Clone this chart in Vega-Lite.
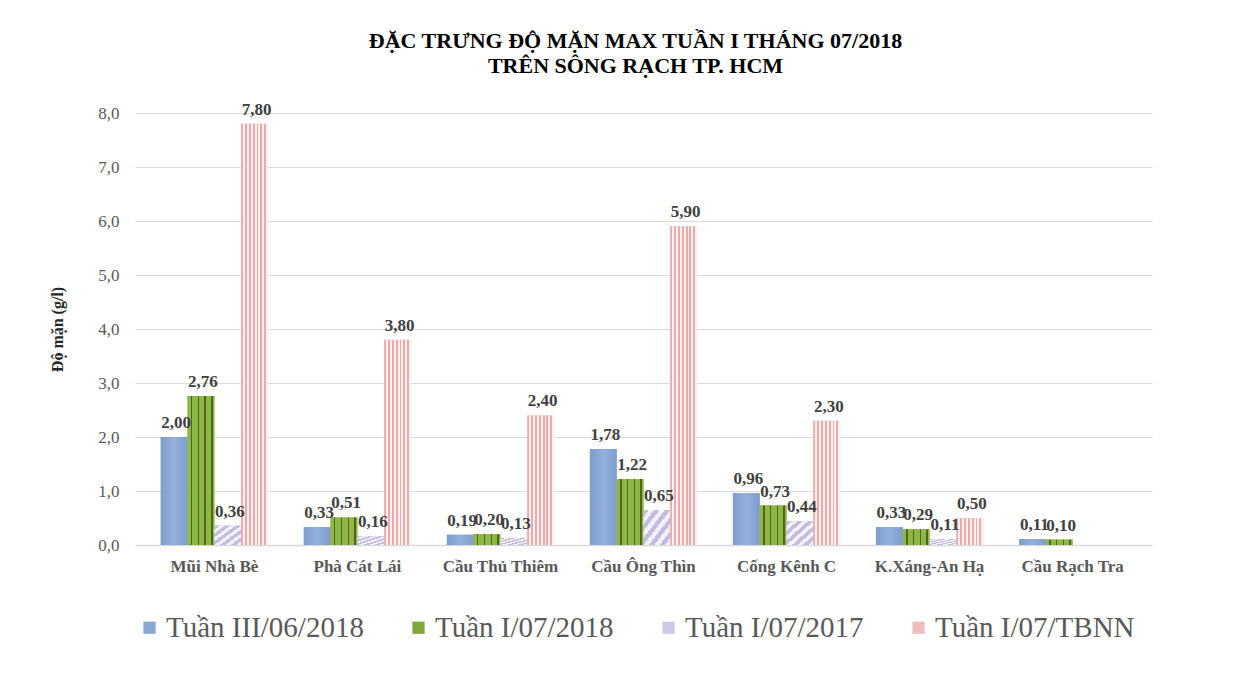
{
  "$schema": "https://vega.github.io/schema/vega-lite/v6.json",
  "autosize": {"type": "none"},
  "padding": {"left": 135, "top": 113, "right": 96, "bottom": 139},
  "width": 1017,
  "height": 432,
  "background": "white",
  "config": {
    "font": "Liberation Serif",
    "locale": {"number": {"decimal": ",", "thousands": ".", "grouping": [3], "currency": ["", ""]}},
    "view": {"stroke": null}
  },
  "title": {
    "text": ["ĐẶC TRƯNG ĐỘ MẶN MAX TUẦN I THÁNG 07/2018", "TRÊN SÔNG RẠCH TP. HCM"],
    "font": "Liberation Serif",
    "fontSize": 22,
    "fontWeight": "bold",
    "color": "#000000",
    "anchor": "middle",
    "dx": -8,
    "lineHeight": 25,
    "offset": 23
  },
  "data": {
    "values": [
      {"site": "Mũi Nhà Bè", "series": "Tuần III/06/2018", "v": 2.00},
      {"site": "Mũi Nhà Bè", "series": "Tuần I/07/2018", "v": 2.76},
      {"site": "Mũi Nhà Bè", "series": "Tuần I/07/2017", "v": 0.36},
      {"site": "Mũi Nhà Bè", "series": "Tuần I/07/TBNN", "v": 7.80},
      {"site": "Phà Cát Lái", "series": "Tuần III/06/2018", "v": 0.33},
      {"site": "Phà Cát Lái", "series": "Tuần I/07/2018", "v": 0.51},
      {"site": "Phà Cát Lái", "series": "Tuần I/07/2017", "v": 0.16},
      {"site": "Phà Cát Lái", "series": "Tuần I/07/TBNN", "v": 3.80},
      {"site": "Cầu Thủ Thiêm", "series": "Tuần III/06/2018", "v": 0.19},
      {"site": "Cầu Thủ Thiêm", "series": "Tuần I/07/2018", "v": 0.20},
      {"site": "Cầu Thủ Thiêm", "series": "Tuần I/07/2017", "v": 0.13},
      {"site": "Cầu Thủ Thiêm", "series": "Tuần I/07/TBNN", "v": 2.40},
      {"site": "Cầu Ông Thìn", "series": "Tuần III/06/2018", "v": 1.78},
      {"site": "Cầu Ông Thìn", "series": "Tuần I/07/2018", "v": 1.22},
      {"site": "Cầu Ông Thìn", "series": "Tuần I/07/2017", "v": 0.65},
      {"site": "Cầu Ông Thìn", "series": "Tuần I/07/TBNN", "v": 5.90},
      {"site": "Cống Kênh C", "series": "Tuần III/06/2018", "v": 0.96},
      {"site": "Cống Kênh C", "series": "Tuần I/07/2018", "v": 0.73},
      {"site": "Cống Kênh C", "series": "Tuần I/07/2017", "v": 0.44},
      {"site": "Cống Kênh C", "series": "Tuần I/07/TBNN", "v": 2.30},
      {"site": "K.Xáng-An Hạ", "series": "Tuần III/06/2018", "v": 0.33},
      {"site": "K.Xáng-An Hạ", "series": "Tuần I/07/2018", "v": 0.29},
      {"site": "K.Xáng-An Hạ", "series": "Tuần I/07/2017", "v": 0.11},
      {"site": "K.Xáng-An Hạ", "series": "Tuần I/07/TBNN", "v": 0.50},
      {"site": "Cầu Rạch Tra", "series": "Tuần III/06/2018", "v": 0.11},
      {"site": "Cầu Rạch Tra", "series": "Tuần I/07/2018", "v": 0.10}
    ]
  },
  "encoding": {
    "x": {
      "field": "site",
      "type": "nominal",
      "sort": null,
      "scale": {"paddingInner": 0.25, "paddingOuter": 0.18},
      "axis": {
        "title": null,
        "labelAngle": 0,
        "labelFont": "Liberation Serif",
        "labelFontSize": 17,
        "labelFontWeight": "bold",
        "labelColor": "#595959",
        "labelPadding": 13,
        "labelDx": -9,
        "ticks": false,
        "domainColor": "#D9D9D9",
        "domainWidth": 1.5,
        "grid": false
      }
    },
    "xOffset": {
      "field": "series",
      "type": "nominal",
      "sort": null,
      "scale": {"domain": ["Tuần III/06/2018", "Tuần I/07/2018", "Tuần I/07/2017", "Tuần I/07/TBNN"], "paddingInner": 0, "paddingOuter": 0}
    },
    "y": {
      "field": "v",
      "type": "quantitative",
      "scale": {"domain": [0, 8], "nice": false},
      "axis": {
        "title": "Độ mặn (g/l)",
        "titleFont": "Liberation Serif",
        "titleFontSize": 16,
        "titleFontWeight": "bold",
        "titleColor": "#262626",
        "titlePadding": 32,
        "values": [0, 1, 2, 3, 4, 5, 6, 7, 8],
        "format": ".1f",
        "labelFont": "Liberation Serif",
        "labelFontSize": 17,
        "labelColor": "#595959",
        "labelPadding": 16,
        "ticks": false,
        "domain": false,
        "gridColor": "#D9D9D9",
        "gridWidth": 1
      }
    }
  },
  "layer": [
    {
      "mark": {"type": "bar"},
      "encoding": {
        "color": {
          "field": "series",
          "type": "nominal",
          "sort": null,
          "scale": {
            "domain": ["Tuần III/06/2018", "Tuần I/07/2018", "Tuần I/07/2017", "Tuần I/07/TBNN"],
            "range": ["#8AA8D6", "#7FA83A", "#CFC8E6", "#F0BDBD"]
          },
          "legend": {
            "title": null,
            "orient": "bottom",
            "direction": "horizontal",
            "labelFont": "Liberation Serif",
            "labelFontSize": 29,
            "labelColor": "#595959",
            "labelLimit": 0,
            "symbolType": "square",
            "symbolSize": 150,
            "symbolStrokeWidth": 0,
            "labelOffset": 2,
            "columnPadding": 40,
            "padding": 0,
            "offset": 39
          }
        }
      }
    },
    {
      "transform": [{"filter": "datum.series == 'Tuần III/06/2018'"}],
      "mark": {
        "type": "bar",
        "fill": {"gradient": "linear", "x1": 0, "y1": 0, "x2": 1, "y2": 0,
          "stops": [{"offset": 0, "color": "#7E9DCC"}, {"offset": 0.5, "color": "#94B0DB"}, {"offset": 1, "color": "#7E9DCC"}]}
      }
    },
    {
      "transform": [{"filter": "datum.series == 'Tuần I/07/2018'"}],
      "mark": {
        "type": "bar",
        "fill": {"gradient": "linear", "x1": 0, "y1": 0, "x2": 1, "y2": 0,
          "stops": [
            {"offset": 0, "color": "#8DB843"}, {"offset": 0.13, "color": "#8DB843"}, {"offset": 0.13, "color": "#4E6621"}, {"offset": 0.18, "color": "#4E6621"}, {"offset": 0.18, "color": "#8DB843"},
            {"offset": 0.38, "color": "#8DB843"}, {"offset": 0.38, "color": "#4E6621"}, {"offset": 0.43, "color": "#4E6621"}, {"offset": 0.43, "color": "#8DB843"},
            {"offset": 0.63, "color": "#8DB843"}, {"offset": 0.63, "color": "#4E6621"}, {"offset": 0.68, "color": "#4E6621"}, {"offset": 0.68, "color": "#8DB843"},
            {"offset": 0.88, "color": "#8DB843"}, {"offset": 0.88, "color": "#4E6621"}, {"offset": 0.93, "color": "#4E6621"}, {"offset": 0.93, "color": "#8DB843"}, {"offset": 1, "color": "#8DB843"}
          ]}
      }
    },
    {
      "transform": [{"filter": "datum.series == 'Tuần I/07/2017'"}],
      "mark": {
        "type": "bar",
        "fill": {"gradient": "linear", "x1": 0, "y1": 0, "x2": 1, "y2": 1,
          "stops": [
            {"offset": 0, "color": "#C4BCDF"}, {"offset": 0.1, "color": "#C4BCDF"}, {"offset": 0.1, "color": "#F2F0F8"}, {"offset": 0.2, "color": "#F2F0F8"},
            {"offset": 0.2, "color": "#C4BCDF"}, {"offset": 0.3, "color": "#C4BCDF"}, {"offset": 0.3, "color": "#F2F0F8"}, {"offset": 0.4, "color": "#F2F0F8"},
            {"offset": 0.4, "color": "#C4BCDF"}, {"offset": 0.5, "color": "#C4BCDF"}, {"offset": 0.5, "color": "#F2F0F8"}, {"offset": 0.6, "color": "#F2F0F8"},
            {"offset": 0.6, "color": "#C4BCDF"}, {"offset": 0.7, "color": "#C4BCDF"}, {"offset": 0.7, "color": "#F2F0F8"}, {"offset": 0.8, "color": "#F2F0F8"},
            {"offset": 0.8, "color": "#C4BCDF"}, {"offset": 0.9, "color": "#C4BCDF"}, {"offset": 0.9, "color": "#F2F0F8"}, {"offset": 1, "color": "#F2F0F8"}
          ]}
      }
    },
    {
      "transform": [{"filter": "datum.series == 'Tuần I/07/TBNN'"}],
      "mark": {
        "type": "bar",
        "fill": {"gradient": "linear", "x1": 0, "y1": 0, "x2": 1, "y2": 0,
          "stops": [
            {"offset": 0, "color": "#EDAAAA"}, {"offset": 0.071, "color": "#EDAAAA"}, {"offset": 0.071, "color": "#FDF0F0"}, {"offset": 0.143, "color": "#FDF0F0"},
            {"offset": 0.143, "color": "#EDAAAA"}, {"offset": 0.214, "color": "#EDAAAA"}, {"offset": 0.214, "color": "#FDF0F0"}, {"offset": 0.286, "color": "#FDF0F0"},
            {"offset": 0.286, "color": "#EDAAAA"}, {"offset": 0.357, "color": "#EDAAAA"}, {"offset": 0.357, "color": "#FDF0F0"}, {"offset": 0.429, "color": "#FDF0F0"},
            {"offset": 0.429, "color": "#EDAAAA"}, {"offset": 0.5, "color": "#EDAAAA"}, {"offset": 0.5, "color": "#FDF0F0"}, {"offset": 0.571, "color": "#FDF0F0"},
            {"offset": 0.571, "color": "#EDAAAA"}, {"offset": 0.643, "color": "#EDAAAA"}, {"offset": 0.643, "color": "#FDF0F0"}, {"offset": 0.714, "color": "#FDF0F0"},
            {"offset": 0.714, "color": "#EDAAAA"}, {"offset": 0.786, "color": "#EDAAAA"}, {"offset": 0.786, "color": "#FDF0F0"}, {"offset": 0.857, "color": "#FDF0F0"},
            {"offset": 0.857, "color": "#EDAAAA"}, {"offset": 0.929, "color": "#EDAAAA"}, {"offset": 0.929, "color": "#FDF0F0"}, {"offset": 1, "color": "#FDF0F0"}
          ]}
      }
    },
    {
      "mark": {"type": "text", "font": "Liberation Serif", "fontSize": 17, "fontWeight": "bold", "color": "#404040", "baseline": "bottom", "dy": -5, "dx": 2},
      "encoding": {
        "text": {"field": "v", "type": "quantitative", "format": ".2f"}
      }
    }
  ]
}
